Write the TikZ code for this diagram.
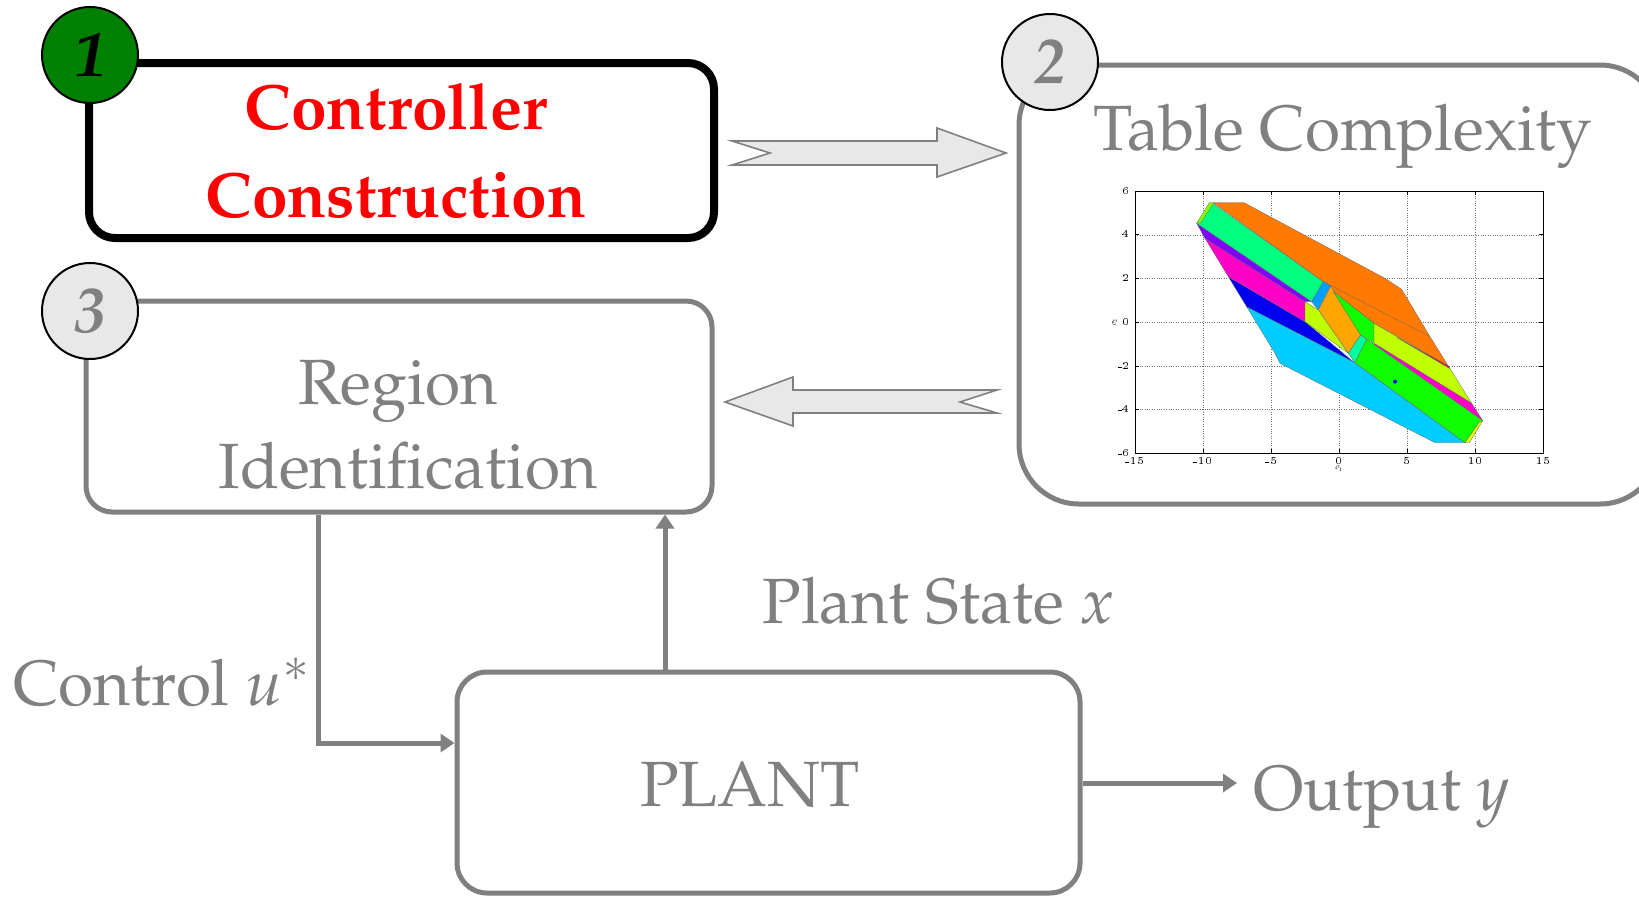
\documentclass[tikz,border=0pt]{standalone}
\usepackage[T1]{fontenc}
\usepackage{mathpazo}
\usetikzlibrary{arrows.meta}
\definecolor{tgray}{RGB}{128,128,128}
\definecolor{lgray}{RGB}{232,232,232}
\definecolor{dgreen}{RGB}{0,128,0}
\definecolor{pcyan}{RGB}{0,204,255}
\definecolor{pblue}{RGB}{0,0,240}
\definecolor{pmag}{RGB}{255,0,200}
\definecolor{ppurp}{RGB}{128,0,255}
\definecolor{pspring}{RGB}{0,255,128}
\definecolor{porange}{RGB}{255,122,0}
\definecolor{psky}{RGB}{0,160,255}
\definecolor{pamber}{RGB}{255,165,0}
\definecolor{plime}{RGB}{191,255,0}
\definecolor{pgreen}{RGB}{16,255,0}
\definecolor{paqua}{RGB}{0,255,160}
\definecolor{pred}{RGB}{255,0,40}
\definecolor{pyel}{RGB}{224,255,0}
\definecolor{pchart}{RGB}{128,255,0}
\tikzset{
  bigtxt/.style={font=\fontsize{32}{38}\selectfont, inner sep=0pt},
  graytxt/.style={bigtxt, text=tgray},
  gbox/.style={draw=tgray, line width=2.5pt, rounded corners=13pt, inner sep=0pt},
  conn/.style={draw=tgray, line width=2.5pt, -{Triangle[length=7pt,width=9pt]}},
  numcirc/.style={circle, draw=black, line width=1pt, minimum size=48pt, inner sep=0pt,
    font=\fontsize{32}{38}\selectfont\bfseries\itshape},
  blockarrow/.style={draw=tgray, fill=lgray, line width=0.8pt, line join=miter},
  reg/.style={draw=black!60, line width=0.15pt, line join=round},
  gridl/.style={draw=black!55, line width=0.2pt, densely dotted},
  tick/.style={font=\sffamily\fontsize{3.6}{4}\selectfont, inner sep=0.5pt},
}
\begin{document}
\begin{tikzpicture}[x=0.5pt,y=-0.5pt]
\useasboundingbox (0,0) rectangle (1639,896);

% ---- boxes
\node[draw=black, line width=4pt, rounded corners=13pt, inner sep=0pt,
      minimum width=312.5pt, minimum height=87.5pt] (cc) at (401.5,150.5) {};
\node[gbox, rounded corners=30pt, minimum width=320.5pt, minimum height=219.5pt] (tc) at (1339.5,284.5) {};
\node[gbox, minimum width=313pt, minimum height=105.5pt] (ri) at (399,406.5) {};
\node[gbox, rounded corners=15pt, minimum width=311.5pt, minimum height=110.5pt] (plant) at (768.5,782.5) {};

% ---- texts in boxes
\node[bigtxt, text=red, font=\fontsize{32}{38}\selectfont\bfseries, anchor=base] (t1a) at (396,129) {Controller};
\node[bigtxt, text=red, font=\fontsize{32}{38}\selectfont\bfseries, anchor=base] (t1b) at (396,217) {Construction};
\node[graytxt, anchor=base] (t2) at (1343,150) {Table Complexity};
\node[graytxt, anchor=base] (t3a) at (398,404) {Region};
\node[graytxt, anchor=base] (t3b) at (408,488) {Identification};
\node[graytxt, anchor=base] (t4) at (750,806) {PLANT};

% ---- plot inside box 2
\begin{scope}[shift={(1100,180)}, x=0.166667pt, y=-0.166667pt]
  % grid
  \foreach \gx in {309,513.5,717.5,921.7,1125.8} \draw[gridl] (\gx,33) -- (\gx,820);
  \foreach \gy in {164.1,295.3,426.5,557.7,688.9} \draw[gridl] (105,\gy) -- (1330,\gy);
  % regions
  \filldraw[reg, fill=pcyan] (440,380) -- (760,545) -- (1095,788) -- (1005,788) -- (540,550) -- (525,520) -- cycle;
  \filldraw[reg, fill=pblue] (385,290) -- (615,425) -- (760,545) -- (440,380) -- cycle;
  \filldraw[reg, fill=pmag] (315,175) -- (615,365) -- (615,425) -- (385,290) -- cycle;
  \filldraw[reg, fill=ppurp] (290,130) -- (635,365) -- (615,365) -- (315,175) -- cycle;
  \filldraw[reg, fill=pspring] (290,130) -- (335,68) -- (670,305) -- (635,365) -- cycle;
  \filldraw[reg, fill=porange] (340,68) -- (432,68) -- (855,295) -- (905,328) -- (990,470) -- (1045,558) -- (822,430) -- (700,335) -- (670,305) -- cycle;
  \draw[reg] (670,305) -- (990,470);
  \filldraw[reg, fill=psky] (635,365) -- (670,305) -- (692,318) -- (655,390) -- cycle;
  \filldraw[reg, fill=pamber] (692,318) -- (782,465) -- (745,520) -- (655,390) -- cycle;
  \filldraw[reg, fill=plime] (615,365) -- (655,390) -- (745,520) -- (615,425) -- cycle;
  \filldraw[reg, fill=pgreen] (700,335) -- (822,430) -- (822,490) -- (782,465) -- cycle;
  \filldraw[reg, fill=paqua] (745,520) -- (782,465) -- (800,478) -- (765,548) -- cycle;
  \filldraw[reg, fill=plime] (822,430) -- (1045,558) -- (1115,670) -- (822,490) -- cycle;
  \filldraw[reg, fill=pred] (890,472) -- (1045,558) -- (1050,566) -- cycle;
  \filldraw[reg, fill=pmag] (822,490) -- (1115,670) -- (1148,722) -- (822,494) -- cycle;
  \filldraw[reg, fill=pgreen] (765,548) -- (800,478) -- (1148,722) -- (1138,726) -- (1095,788) -- cycle;
  \filldraw[reg, fill=pyel] (1095,788) -- (1108,788) -- (1148,722) -- (1138,726) -- cycle;
  \filldraw[reg, fill=pchart] (290,130) -- (328,68) -- (342,68) -- (302,128) -- cycle;
  \fill[pblue] (885,605) circle[radius=6];
  % axes box and ticks
  \draw[black, line width=0.3pt] (105,33) rectangle (1330,820);
  \foreach \gx/\lab in {105/-15,309/-10,513.5/-5,717.5/0,921.7/5,1125.8/10,1330/15} {
    \draw[black, line width=0.3pt] (\gx,820) -- (\gx,808);
    \draw[black, line width=0.3pt] (\gx,33) -- (\gx,45);
    \node[tick, anchor=north] at (\gx,830) {\lab};
  }
  \foreach \gy/\lab in {33/6,164.1/4,295.3/2,426.5/0,557.7/-2,688.9/-4,820/-6} {
    \draw[black, line width=0.3pt] (105,\gy) -- (117,\gy);
    \draw[black, line width=0.3pt] (1330,\gy) -- (1318,\gy);
    \node[tick, anchor=east] at (93,\gy) {\lab};
  }
  \node[tick, anchor=north] at (717.5,855) {$\sigma_1$};
  \node[tick, rotate=90, anchor=south] at (55,426.5) {$\sigma_2$};
\end{scope}

% ---- number circles
\node[numcirc, fill=dgreen, text=black] (n1) at (90,55) {1};
\node[numcirc, fill=lgray, text=tgray] (n2) at (1050,62) {\raisebox{-3pt}{2}};
\node[numcirc, fill=lgray, text=tgray] (n3) at (90,311) {3};

% ---- block arrows
\filldraw[blockarrow] (732,141) -- (937,141) -- (937,128) -- (1006,153) -- (937,177) -- (937,165) -- (732,165) -- (770,153) -- cycle;
\filldraw[blockarrow] (725,402) -- (793,377) -- (793,390) -- (997,390) -- (960,402) -- (997,413) -- (793,413) -- (793,426) -- cycle;

% ---- connectors
\coordinate (cx) at (318,743);
\coordinate (sx) at (665,600);
\coordinate (oend) at (1237,783);
\draw[conn] (ri.south -| cx) |- (plant.west |- cx);
\draw[conn] (plant.north -| sx) -- (ri.south -| sx);
\draw[conn] (plant.east |- oend) -- (oend);

% ---- labels
\node[graytxt, anchor=base west] (lu) at (13,705) {Control $u^{*}$};
\node[graytxt, anchor=base west] (lx) at (762,623) {Plant State $x$};
\node[graytxt, anchor=base west] (ly) at (1253,810) {Output $y$};
\end{tikzpicture}
\end{document}
